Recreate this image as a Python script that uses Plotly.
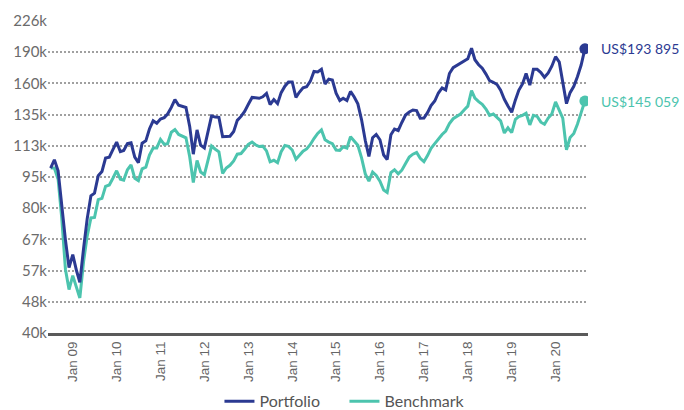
import math
import pandas as pd
import plotly.graph_objects as go

# Monthly observations, Jul 2008 .. Sep 2020
dates = pd.date_range("2008-07-01", periods=147, freq="MS")

portfolio = [
    100.0, 104.7, 98.5, 81.2, 67.1, 57.5, 61.8, 56.6, 53.0, 64.0,
    75.4, 85.7, 87.0, 95.8, 98.1, 105.7, 106.2, 110.7, 115.5, 109.5,
    110.2, 114.5, 115.0, 106.3, 103.0, 114.8, 116.3, 124.2, 130.0, 128.2,
    131.3, 132.3, 135.0, 140.0, 146.3, 141.7, 141.0, 140.0, 126.0, 108.0,
    123.6, 113.5, 111.8, 121.5, 133.5, 132.7, 132.5, 119.0, 119.0, 119.3,
    122.5, 130.3, 133.2, 137.0, 142.5, 148.0, 147.7, 147.3, 148.5, 151.3,
    142.3, 146.3, 143.0, 152.0, 157.5, 161.3, 161.3, 148.0, 152.3, 156.2,
    157.0, 162.0, 171.0, 170.5, 173.0, 159.5, 163.8, 163.0, 151.5, 145.5,
    147.3, 145.5, 153.0, 148.4, 142.8, 130.7, 116.5, 106.6, 118.3, 120.5,
    117.0, 107.5, 104.8, 120.3, 124.2, 123.2, 128.8, 134.2, 136.5, 138.0,
    137.6, 131.9, 132.0, 136.2, 141.4, 145.1, 151.7, 156.0, 154.3, 169.0,
    174.6, 176.7, 178.6, 181.0, 183.5, 194.5, 182.5, 177.5, 174.0, 168.5,
    162.5, 161.0, 159.0, 154.0, 146.5, 141.2, 136.3, 146.0, 154.0, 159.5,
    169.0, 158.5, 173.0, 173.0, 170.0, 165.5, 169.5, 176.0, 185.6, 180.0,
    162.0, 143.0, 152.0, 157.5, 166.0, 177.2, 193.895,
]

benchmark = [
    100.0, 100.0, 94.0, 75.9, 57.0, 50.9, 55.0, 51.5, 48.6, 59.5,
    68.5, 75.8, 76.0, 83.9, 84.5, 90.3, 91.0, 94.5, 98.5, 94.0,
    93.5, 99.0, 101.8, 94.4, 93.2, 99.5, 100.5, 107.5, 111.8, 111.8,
    117.2, 114.0, 114.5, 122.0, 123.8, 120.5, 119.5, 118.3, 106.5, 92.3,
    104.3, 97.8, 96.3, 104.5, 113.0, 111.0, 109.4, 97.0, 100.0, 101.5,
    104.0, 108.0, 108.4, 111.0, 114.0, 115.5, 113.8, 112.7, 112.9, 110.0,
    103.5, 104.4, 103.0, 109.5, 113.3, 112.8, 110.5, 105.0, 107.0, 109.8,
    111.2, 114.0, 117.8, 121.2, 123.6, 117.0, 115.5, 114.5, 110.5, 110.3,
    112.5, 111.7, 119.0, 116.2, 113.5, 105.8, 96.8, 93.0, 97.8, 96.0,
    93.0, 88.5, 87.3, 97.5, 99.0, 96.8, 98.8, 102.5, 106.3, 108.0,
    109.0, 105.5, 103.6, 107.3, 111.5, 114.5, 117.5, 120.5, 122.8, 128.0,
    131.5, 133.0, 135.0, 138.0, 141.0, 153.7, 147.5, 144.6, 142.5, 138.8,
    134.0, 135.0, 132.4, 130.0, 121.5, 125.0, 121.7, 131.0, 133.0, 134.0,
    135.6, 127.1, 134.0, 133.2, 129.0, 127.5, 132.0, 135.0, 144.4, 138.5,
    132.0, 110.7, 118.5, 121.2, 127.5, 136.0, 145.059,
]

# values are in thousands of US$
portfolio_usd = [v * 1000 for v in portfolio]
benchmark_usd = [v * 1000 for v in benchmark]

y_tick_vals = [40000, 47568, 56569, 67272, 80000, 95137, 113137, 134543, 160000, 190273, 226274]
y_tick_text = ["40k", "48k", "57k", "67k", "80k", "95k", "113k", "135k", "160k", "190k", "226k"]

x_tick_vals = pd.date_range("2009-01-01", periods=12, freq="YS")
x_tick_text = ["Jan 09", "Jan 10", "Jan 11", "Jan 12", "Jan 13", "Jan 14",
               "Jan 15", "Jan 16", "Jan 17", "Jan 18", "Jan 19", "Jan 20"]

end_labels = ["US$193 895", "US$145 059"]

C_PORT = "#2b3a92"
C_BENCH = "#4cc4ae"
FONT = "Lato"

fig = go.Figure()
fig.add_trace(go.Scatter(x=dates, y=benchmark_usd, mode="lines", name="Benchmark",
                         line=dict(color=C_BENCH, width=3)))
fig.add_trace(go.Scatter(x=dates, y=portfolio_usd, mode="lines", name="Portfolio",
                         line=dict(color=C_PORT, width=3)))
fig.add_trace(go.Scatter(x=[dates[-1]], y=[portfolio_usd[-1]], mode="markers", showlegend=False,
                         marker=dict(color=C_PORT, size=11)))
fig.add_trace(go.Scatter(x=[dates[-1]], y=[benchmark_usd[-1]], mode="markers", showlegend=False,
                         marker=dict(color=C_BENCH, size=11)))

for val, txt, col in [(portfolio_usd[-1], end_labels[0], C_PORT), (benchmark_usd[-1], end_labels[1], C_BENCH)]:
    # annotation positions on a log axis are given in log10 units
    fig.add_annotation(x=dates[-1], y=math.log10(val), text=txt, showarrow=False, xanchor="left",
                       yanchor="middle", xshift=14, font=dict(family=FONT, size=14, color=col))

fig.update_layout(
    width=684, height=410,
    margin=dict(l=48, r=96, t=21, b=77, autoexpand=False),
    paper_bgcolor="white", plot_bgcolor="white",
    showlegend=True,
    legend=dict(orientation="h", x=0.549, xanchor="center", y=-0.219, yanchor="middle",
                font=dict(family=FONT, size=16, color="#555555"), traceorder="reversed",
                itemwidth=30, entrywidth=80),
    xaxis=dict(type="date", range=["2008-06-09", "2020-09-27"],
               tickvals=x_tick_vals, ticktext=x_tick_text, tickangle=-90,
               tickfont=dict(family="Liberation Sans", size=13.5, color="#666666"),
               showgrid=False, showline=True, linecolor="#5a5a5a", linewidth=3,
               ticks="", zeroline=False),
    yaxis=dict(type="log", range=[4.60206, 5.354635],
               tickvals=y_tick_vals, ticktext=y_tick_text,
               tickfont=dict(family=FONT, size=15, color="#6b6b6b"),
               showgrid=True, gridcolor="#a0a0a0", gridwidth=2, griddash="2px,2px",
               showline=False, ticks="", zeroline=False),
)

fig.write_html("out.html", config={"displayModeBar": False},
               post_script="document.body.style.margin='0px';")
